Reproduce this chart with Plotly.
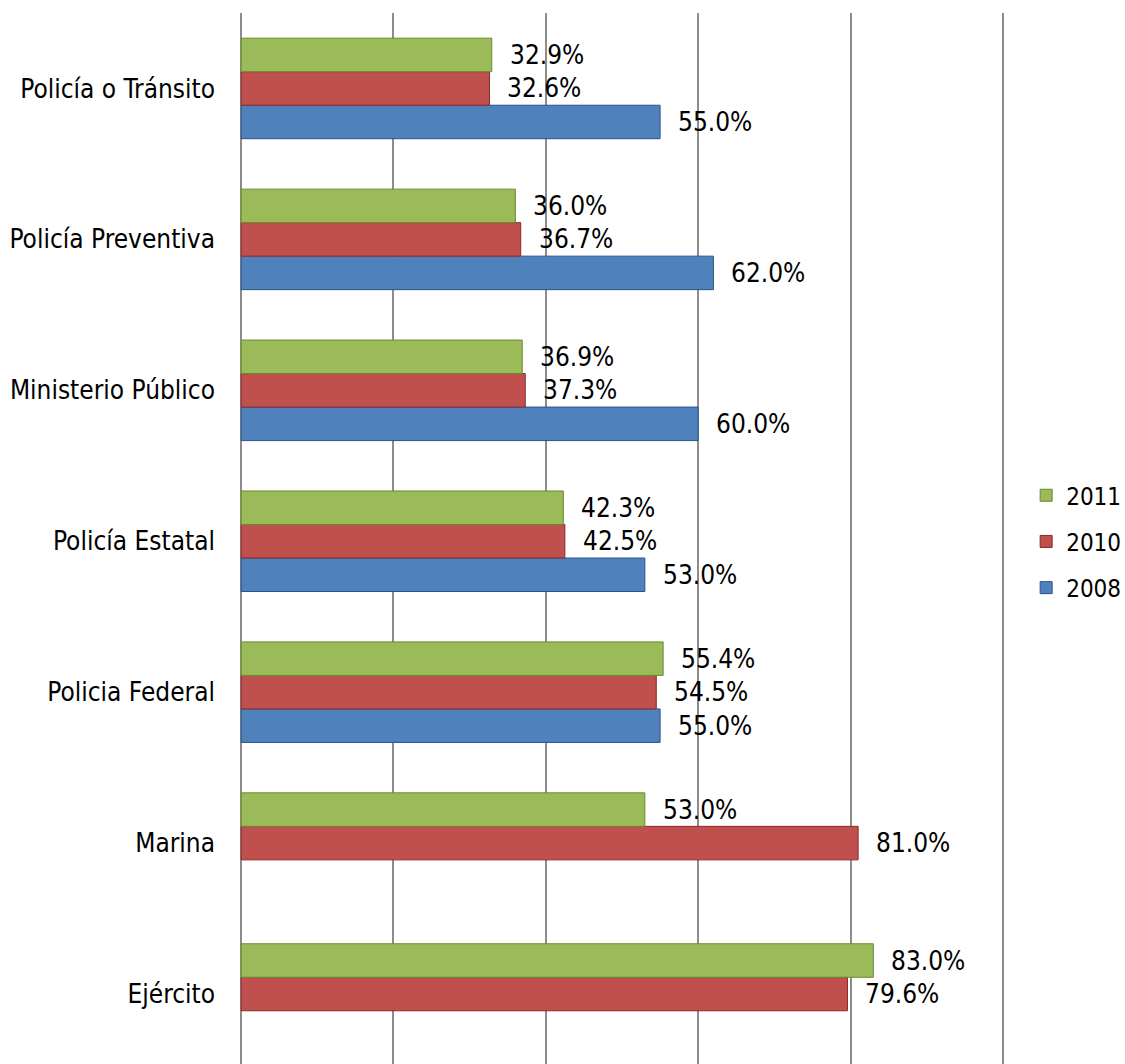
import plotly.graph_objects as go

# Categories listed bottom to top
categories = ["Ejército", "Marina", "Policia Federal", "Policía Estatal",
              "Ministerio Público", "Policía Preventiva", "Policía o Tránsito"]
years = ["2008", "2010", "2011"]
values_2008 = [None, None, 55.0, 53.0, 60.0, 62.0, 55.0]
values_2010 = [79.6, 81.0, 54.5, 42.5, 37.3, 36.7, 32.6]
values_2011 = [83.0, 53.0, 55.4, 42.3, 36.9, 36.0, 32.9]
series = [values_2008, values_2010, values_2011]
colors = ["#4F81BD", "#C0504D", "#9BBB59"]
edges = ["#2C5487", "#8B2A27", "#6A8A2E"]

FONT = "DejaVu Sans Condensed, DejaVu Sans, sans-serif"

fig = go.Figure()
for i, (name, vals, col, edge) in enumerate(zip(years, series, colors, edges)):
    fig.add_trace(go.Bar(
        y=categories, x=vals, name=name, orientation="h",
        marker=dict(color=col, line=dict(color=edge, width=1)),
        legendgroup=name, legendrank=1000 - i,
    ))

# Value labels next to each bar end
bar_px = 33.5
shifts = [-bar_px, 0, bar_px]
annotations = []
for vals, dy in zip(series, shifts):
    for cat, v in zip(categories, vals):
        if v is None:
            continue
        annotations.append(dict(
            x=v, y=cat, xref="x", yref="y", text=f"{v:.1f}%",
            showarrow=False, xanchor="left", yanchor="middle",
            xshift=16, yshift=dy,
            font=dict(family=FONT, size=26, color="#000000"),
        ))

fig.update_layout(
    width=1125, height=1064,
    margin=dict(l=240, r=121, t=13, b=0, autoexpand=False),
    paper_bgcolor="white", plot_bgcolor="white",
    barmode="group", bargap=0.334, bargroupgap=0,
    font=dict(family=FONT, size=26, color="#000000"),
    annotations=annotations,
    showlegend=True,
    legend=dict(
        x=1.029, y=0.497, xanchor="left", yanchor="middle",
        traceorder="grouped", tracegroupgap=12,
        font=dict(family=FONT, size=24, color="#000000"),
        itemwidth=30,
    ),
    xaxis=dict(range=[-0.15, 100.15], tickvals=[0, 20, 40, 60, 80, 100],
               showgrid=True, gridcolor="#8C8C8C",
               gridwidth=1.5, showticklabels=False, zeroline=False,
               showline=False, ticks=""),
    yaxis=dict(range=[-0.4636, 6.5], showgrid=False, showline=False,
               ticks="", ticklabelstandoff=24,
               tickfont=dict(family=FONT, size=26, color="#000000")),
)

fig.write_html("out.html")
